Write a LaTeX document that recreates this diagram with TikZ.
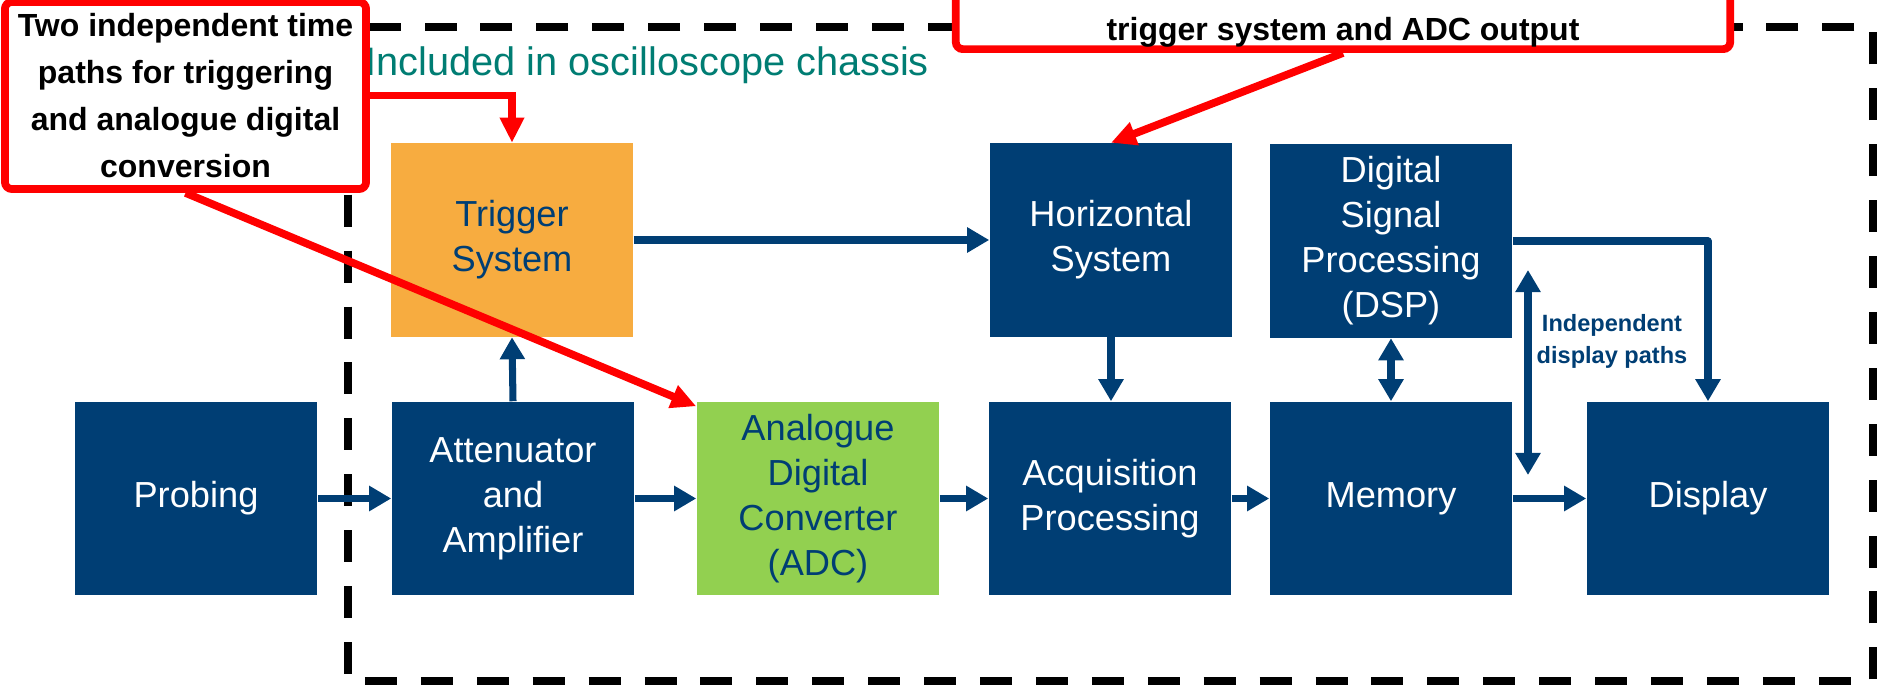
\documentclass[tikz,border=0pt]{standalone}
\usepackage{fontspec}
\setmainfont{Liberation Sans}
\usetikzlibrary{arrows.meta}

\definecolor{navy}{RGB}{0,62,116}
\definecolor{trigorange}{RGB}{247,172,64}
\definecolor{adcgreen}{RGB}{146,208,80}
\definecolor{chassisteal}{RGB}{0,125,115}
\definecolor{calloutred}{RGB}{255,0,0}

\begin{document}
\begin{tikzpicture}[x=0.01cm,y=-0.01cm,
  block/.style={minimum width=2.42cm, minimum height=1.93cm, inner sep=0pt,
    align=center, font=\fontsize{10.3}{12.8}\selectfont, fill=navy, text=white},
  flow/.style={draw=navy, line width=2pt, line join=round,
    -{Triangle[width=0.24cm,length=0.22cm]}},
  flowboth/.style={draw=navy, line width=2pt,
    {Triangle[width=0.24cm,length=0.22cm]}-{Triangle[width=0.24cm,length=0.22cm]}},
  callout/.style={draw=calloutred, fill=white, line width=2.2pt, rounded corners=2pt,
    align=center, inner sep=0pt, font=\fontsize{9.1}{13.4}\selectfont\bfseries},
  pointer/.style={draw=calloutred, line width=2.2pt,
    -{Triangle[width=0.23cm,length=0.25cm]}},
  chassis/.style={draw=black, line width=2.3pt, dash pattern=on 9.1pt off 6.8pt}
]
\useasboundingbox (0,0) rectangle (1878,685);

% oscilloscope chassis outline
\draw[chassis] (348,27) rectangle (1873,681);
\node[anchor=base west, inner sep=0pt, text=chassisteal,
  font=\fontsize{11.3}{13}\selectfont] (chassislabel) at (365,76)
  {Included in oscilloscope chassis};

% signal chain, lower row
\node[block] (probing) at (196,498.5) {Probing};
\node[block] (atten)   at (513,498.5) {Attenuator\\and\\Amplifier};
\node[block, fill=adcgreen, text=navy] (adc) at (818,498.5)
  {Analogue\\Digital\\Converter\\(ADC)};
\node[block] (acq)     at (1110,498.5) {Acquisition\\Processing};
\node[block] (memory)  at (1391,498.5) {Memory};
\node[block] (display) at (1708,498.5) {Display};

% upper row
\node[block, fill=trigorange, text=navy] (trigger) at (512,240) {Trigger\\System};
\node[block] (horizontal) at (1111,240) {Horizontal\\System};
\node[block] (dsp) at (1391,241) {Digital\\Signal\\Processing\\(DSP)};

% data flow
\draw[flow] (probing.east) -- (atten.west);
\draw[flow] (atten.east) -- (adc.west);
\draw[flow] (adc.east) -- (acq.west);
\draw[flow] (acq.east) -- (memory.west);
\draw[flow] (memory.east) -- (display.west);
\draw[flow] (atten.north) -- (trigger.south);
\draw[flow] (trigger.east) -- (horizontal.west);
\draw[flow] (horizontal.south) -- (horizontal.south |- acq.north);
\draw[flowboth] (dsp.south) -- (memory.north);
\draw[flow] (dsp.east) -| (display.north);

% independent display paths
\coordinate (pathtop) at (1528,270);
\coordinate (pathbottom) at (1528,475);
\draw[flowboth] (pathtop) -- (pathbottom);
\node[align=center, inner sep=0pt, text=navy,
  font=\fontsize{6.7}{9.1}\selectfont\bfseries] (pathlabel) at (1612,341)
  {Independent\\display paths};

% callouts
\node[callout, minimum width=3.61cm, minimum height=1.87cm] (calloutone)
  at (185.5,95.5)
  {Two independent time\\paths for triggering\\and analogue digital\\conversion};
\draw[pointer] (calloutone.east) -| (trigger.north);
\draw[pointer] (calloutone.south) -- ([yshift=-0.05cm]adc.north west);

\node[callout, minimum width=7.74cm, text height=1.2cm, text depth=0.085cm,
  anchor=south] (callouttwo) at (1343,53)
  {trigger system and ADC output};
\draw[pointer] (callouttwo.south) -- (horizontal.north);
\end{tikzpicture}
\end{document}
